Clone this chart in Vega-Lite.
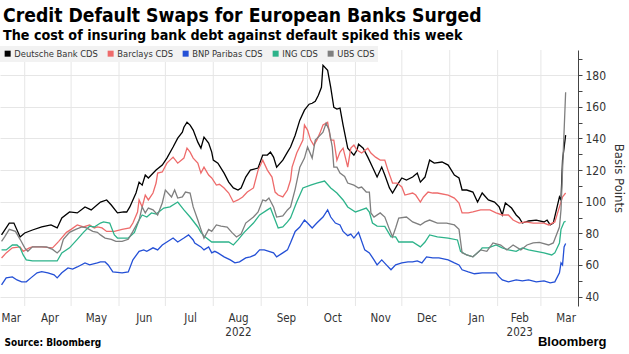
{
"$schema": "https://vega.github.io/schema/vega-lite/v6.json",
"width": 578, "height": 256,
"autosize": "none",
"padding": {"left": 0, "top": 50, "right": 51, "bottom": 48},
"background": "white",
"config": {"view": {"stroke": null}, "font": "DejaVu Sans Condensed, DejaVu Sans, sans-serif"},
"title": {"text": "Credit Default Swaps for European Banks Surged", "subtitle": "The cost of insuring bank debt against default spiked this week", "anchor": "start", "frame": "group", "offset": 3, "dx": 3, "fontSize": 19.2, "fontWeight": "bold", "color": "#000", "subtitleFontSize": 14.2, "subtitleFontWeight": "bold", "subtitleColor": "#000", "subtitlePadding": 3},
"layer": [
{
"data": {"values": [{"m":"2022-04-01"},{"m":"2022-05-01"},{"m":"2022-06-01"},{"m":"2022-07-01"},{"m":"2022-08-01"},{"m":"2022-09-01"},{"m":"2022-10-01"},{"m":"2022-11-01"},{"m":"2022-12-01"},{"m":"2023-01-01"},{"m":"2023-02-01"},{"m":"2023-03-01"}]},
"mark": {"type": "rule", "color": "#e6e6e6", "strokeWidth": 1},
"encoding": {"x": {"field": "m", "type": "temporal",
 "scale": {"type": "utc", "domain": [{"year": 2022, "month": 3, "date": 16, "utc": true}, {"year": 2023, "month": 3, "date": 25, "utc": true}]},
 "axis": {"orient": "bottom", "labels": false, "ticks": false, "domain": false, "grid": false, "title": "Bloomberg", "titleX": 606, "titleY": 35, "titleAlign": "right", "titleBaseline": "middle", "titleFont": "Liberation Sans", "titleFontSize": 13, "titleFontWeight": "bold", "titleColor": "#000"}}}
},
{
"data": {"values": [
{"d":"2022-03-17","s":"Deutsche Bank CDS","v":79},{"d":"2022-03-22","s":"Deutsche Bank CDS","v":86.5},{"d":"2022-03-25","s":"Deutsche Bank CDS","v":86.5},{"d":"2022-03-29","s":"Deutsche Bank CDS","v":77.7},{"d":"2022-04-01","s":"Deutsche Bank CDS","v":80.2},{"d":"2022-04-06","s":"Deutsche Bank CDS","v":82.1},{"d":"2022-04-12","s":"Deutsche Bank CDS","v":84},{"d":"2022-04-18","s":"Deutsche Bank CDS","v":85.3},{"d":"2022-04-22","s":"Deutsche Bank CDS","v":83.4},{"d":"2022-04-25","s":"Deutsche Bank CDS","v":89.7},{"d":"2022-04-30","s":"Deutsche Bank CDS","v":93.5},{"d":"2022-05-05","s":"Deutsche Bank CDS","v":92.9},{"d":"2022-05-10","s":"Deutsche Bank CDS","v":96.7},{"d":"2022-05-14","s":"Deutsche Bank CDS","v":94.8},{"d":"2022-05-20","s":"Deutsche Bank CDS","v":99.8},{"d":"2022-05-24","s":"Deutsche Bank CDS","v":101.1},{"d":"2022-05-27","s":"Deutsche Bank CDS","v":97.9},{"d":"2022-05-31","s":"Deutsche Bank CDS","v":92.9},{"d":"2022-06-04","s":"Deutsche Bank CDS","v":93.5},{"d":"2022-06-06","s":"Deutsche Bank CDS","v":93.5},{"d":"2022-06-08","s":"Deutsche Bank CDS","v":96.7},{"d":"2022-06-12","s":"Deutsche Bank CDS","v":105.5},{"d":"2022-06-14","s":"Deutsche Bank CDS","v":112.4},{"d":"2022-06-16","s":"Deutsche Bank CDS","v":110.5},{"d":"2022-06-18","s":"Deutsche Bank CDS","v":116.9},{"d":"2022-06-20","s":"Deutsche Bank CDS","v":115},{"d":"2022-06-25","s":"Deutsche Bank CDS","v":120},{"d":"2022-06-29","s":"Deutsche Bank CDS","v":123.2},{"d":"2022-07-02","s":"Deutsche Bank CDS","v":127.6},{"d":"2022-07-06","s":"Deutsche Bank CDS","v":134.6},{"d":"2022-07-09","s":"Deutsche Bank CDS","v":140.2},{"d":"2022-07-12","s":"Deutsche Bank CDS","v":144},{"d":"2022-07-13","s":"Deutsche Bank CDS","v":147.1},{"d":"2022-07-15","s":"Deutsche Bank CDS","v":150.3},{"d":"2022-07-17","s":"Deutsche Bank CDS","v":148.5},{"d":"2022-07-19","s":"Deutsche Bank CDS","v":145.3},{"d":"2022-07-22","s":"Deutsche Bank CDS","v":137.7},{"d":"2022-07-24","s":"Deutsche Bank CDS","v":133.9},{"d":"2022-07-26","s":"Deutsche Bank CDS","v":140.9},{"d":"2022-07-29","s":"Deutsche Bank CDS","v":137.1},{"d":"2022-07-31","s":"Deutsche Bank CDS","v":131.4},{"d":"2022-08-01","s":"Deutsche Bank CDS","v":126.3},{"d":"2022-08-04","s":"Deutsche Bank CDS","v":124.4},{"d":"2022-08-08","s":"Deutsche Bank CDS","v":118.1},{"d":"2022-08-11","s":"Deutsche Bank CDS","v":112.4},{"d":"2022-08-14","s":"Deutsche Bank CDS","v":108.7},{"d":"2022-08-17","s":"Deutsche Bank CDS","v":107.4},{"d":"2022-08-19","s":"Deutsche Bank CDS","v":108.7},{"d":"2022-08-22","s":"Deutsche Bank CDS","v":115.6},{"d":"2022-08-25","s":"Deutsche Bank CDS","v":120},{"d":"2022-08-30","s":"Deutsche Bank CDS","v":121.3},{"d":"2022-09-02","s":"Deutsche Bank CDS","v":129.5},{"d":"2022-09-05","s":"Deutsche Bank CDS","v":129.5},{"d":"2022-09-07","s":"Deutsche Bank CDS","v":131.4},{"d":"2022-09-09","s":"Deutsche Bank CDS","v":128.2},{"d":"2022-09-11","s":"Deutsche Bank CDS","v":121.9},{"d":"2022-09-15","s":"Deutsche Bank CDS","v":126.3},{"d":"2022-09-18","s":"Deutsche Bank CDS","v":131.4},{"d":"2022-09-20","s":"Deutsche Bank CDS","v":134.6},{"d":"2022-09-23","s":"Deutsche Bank CDS","v":142.1},{"d":"2022-09-26","s":"Deutsche Bank CDS","v":151.6},{"d":"2022-09-29","s":"Deutsche Bank CDS","v":157.9},{"d":"2022-10-02","s":"Deutsche Bank CDS","v":161.7},{"d":"2022-10-04","s":"Deutsche Bank CDS","v":162.3},{"d":"2022-10-06","s":"Deutsche Bank CDS","v":163.6},{"d":"2022-10-08","s":"Deutsche Bank CDS","v":167.4},{"d":"2022-10-10","s":"Deutsche Bank CDS","v":172.4},{"d":"2022-10-11","s":"Deutsche Bank CDS","v":186.3},{"d":"2022-10-14","s":"Deutsche Bank CDS","v":183.1},{"d":"2022-10-16","s":"Deutsche Bank CDS","v":172.4},{"d":"2022-10-18","s":"Deutsche Bank CDS","v":159.7},{"d":"2022-10-20","s":"Deutsche Bank CDS","v":158.6},{"d":"2022-10-22","s":"Deutsche Bank CDS","v":159.2},{"d":"2022-10-24","s":"Deutsche Bank CDS","v":148.5},{"d":"2022-10-27","s":"Deutsche Bank CDS","v":133.9},{"d":"2022-10-31","s":"Deutsche Bank CDS","v":129.5},{"d":"2022-11-02","s":"Deutsche Bank CDS","v":132.7},{"d":"2022-11-03","s":"Deutsche Bank CDS","v":136.4},{"d":"2022-11-06","s":"Deutsche Bank CDS","v":133.9},{"d":"2022-11-09","s":"Deutsche Bank CDS","v":128.2},{"d":"2022-11-12","s":"Deutsche Bank CDS","v":121.9},{"d":"2022-11-15","s":"Deutsche Bank CDS","v":115.6},{"d":"2022-11-18","s":"Deutsche Bank CDS","v":121.9},{"d":"2022-11-20","s":"Deutsche Bank CDS","v":116.9},{"d":"2022-11-23","s":"Deutsche Bank CDS","v":108.7},{"d":"2022-11-25","s":"Deutsche Bank CDS","v":105.5},{"d":"2022-11-28","s":"Deutsche Bank CDS","v":110.5},{"d":"2022-12-01","s":"Deutsche Bank CDS","v":115},{"d":"2022-12-04","s":"Deutsche Bank CDS","v":113.7},{"d":"2022-12-08","s":"Deutsche Bank CDS","v":115.6},{"d":"2022-12-11","s":"Deutsche Bank CDS","v":118.1},{"d":"2022-12-13","s":"Deutsche Bank CDS","v":112.4},{"d":"2022-12-16","s":"Deutsche Bank CDS","v":115.6},{"d":"2022-12-19","s":"Deutsche Bank CDS","v":126.3},{"d":"2022-12-22","s":"Deutsche Bank CDS","v":124.4},{"d":"2022-12-27","s":"Deutsche Bank CDS","v":125.1},{"d":"2022-12-31","s":"Deutsche Bank CDS","v":123.2},{"d":"2023-01-04","s":"Deutsche Bank CDS","v":116.9},{"d":"2023-01-07","s":"Deutsche Bank CDS","v":115},{"d":"2023-01-09","s":"Deutsche Bank CDS","v":107.4},{"d":"2023-01-12","s":"Deutsche Bank CDS","v":107.4},{"d":"2023-01-16","s":"Deutsche Bank CDS","v":106.1},{"d":"2023-01-19","s":"Deutsche Bank CDS","v":99.8},{"d":"2023-01-22","s":"Deutsche Bank CDS","v":105.5},{"d":"2023-01-26","s":"Deutsche Bank CDS","v":101.1},{"d":"2023-01-30","s":"Deutsche Bank CDS","v":99.8},{"d":"2023-02-02","s":"Deutsche Bank CDS","v":96.7},{"d":"2023-02-04","s":"Deutsche Bank CDS","v":91.6},{"d":"2023-02-06","s":"Deutsche Bank CDS","v":99.2},{"d":"2023-02-10","s":"Deutsche Bank CDS","v":96},{"d":"2023-02-13","s":"Deutsche Bank CDS","v":91.6},{"d":"2023-02-15","s":"Deutsche Bank CDS","v":89.7},{"d":"2023-02-17","s":"Deutsche Bank CDS","v":86.5},{"d":"2023-02-21","s":"Deutsche Bank CDS","v":87.8},{"d":"2023-02-26","s":"Deutsche Bank CDS","v":88.4},{"d":"2023-03-03","s":"Deutsche Bank CDS","v":87.2},{"d":"2023-03-05","s":"Deutsche Bank CDS","v":88.4},{"d":"2023-03-07","s":"Deutsche Bank CDS","v":85.3},{"d":"2023-03-09","s":"Deutsche Bank CDS","v":86.5},{"d":"2023-03-13","s":"Deutsche Bank CDS","v":103},{"d":"2023-03-14","s":"Deutsche Bank CDS","v":101.1},{"d":"2023-03-15","s":"Deutsche Bank CDS","v":126.3},{"d":"2023-03-17","s":"Deutsche Bank CDS","v":142.1},
{"d":"2022-03-17","s":"Barclays CDS","v":64.4},{"d":"2022-03-20","s":"Barclays CDS","v":67.6},{"d":"2022-03-24","s":"Barclays CDS","v":70.8},{"d":"2022-03-29","s":"Barclays CDS","v":71.4},{"d":"2022-03-31","s":"Barclays CDS","v":68.6},{"d":"2022-04-04","s":"Barclays CDS","v":70.8},{"d":"2022-04-06","s":"Barclays CDS","v":71.4},{"d":"2022-04-12","s":"Barclays CDS","v":71.4},{"d":"2022-04-19","s":"Barclays CDS","v":70.8},{"d":"2022-04-23","s":"Barclays CDS","v":74.9},{"d":"2022-04-28","s":"Barclays CDS","v":80.6},{"d":"2022-05-01","s":"Barclays CDS","v":82.5},{"d":"2022-05-05","s":"Barclays CDS","v":85.3},{"d":"2022-05-09","s":"Barclays CDS","v":84},{"d":"2022-05-13","s":"Barclays CDS","v":85.3},{"d":"2022-05-16","s":"Barclays CDS","v":83.4},{"d":"2022-05-18","s":"Barclays CDS","v":84},{"d":"2022-05-21","s":"Barclays CDS","v":83.4},{"d":"2022-05-24","s":"Barclays CDS","v":81.2},{"d":"2022-05-29","s":"Barclays CDS","v":81.2},{"d":"2022-06-03","s":"Barclays CDS","v":82.5},{"d":"2022-06-08","s":"Barclays CDS","v":83.4},{"d":"2022-06-10","s":"Barclays CDS","v":86.5},{"d":"2022-06-13","s":"Barclays CDS","v":93.5},{"d":"2022-06-14","s":"Barclays CDS","v":101.1},{"d":"2022-06-16","s":"Barclays CDS","v":96.7},{"d":"2022-06-18","s":"Barclays CDS","v":104.2},{"d":"2022-06-20","s":"Barclays CDS","v":101.1},{"d":"2022-06-23","s":"Barclays CDS","v":105.5},{"d":"2022-06-25","s":"Barclays CDS","v":111.8},{"d":"2022-06-26","s":"Barclays CDS","v":118.1},{"d":"2022-06-29","s":"Barclays CDS","v":118.8},{"d":"2022-07-02","s":"Barclays CDS","v":124.4},{"d":"2022-07-06","s":"Barclays CDS","v":128.2},{"d":"2022-07-09","s":"Barclays CDS","v":124.4},{"d":"2022-07-13","s":"Barclays CDS","v":127.6},{"d":"2022-07-15","s":"Barclays CDS","v":133.9},{"d":"2022-07-17","s":"Barclays CDS","v":131.4},{"d":"2022-07-19","s":"Barclays CDS","v":127.6},{"d":"2022-07-22","s":"Barclays CDS","v":124.4},{"d":"2022-07-24","s":"Barclays CDS","v":118.1},{"d":"2022-07-26","s":"Barclays CDS","v":121.9},{"d":"2022-07-29","s":"Barclays CDS","v":116.9},{"d":"2022-07-31","s":"Barclays CDS","v":115},{"d":"2022-08-03","s":"Barclays CDS","v":110.5},{"d":"2022-08-05","s":"Barclays CDS","v":111},{"d":"2022-08-08","s":"Barclays CDS","v":108.7},{"d":"2022-08-11","s":"Barclays CDS","v":105.5},{"d":"2022-08-14","s":"Barclays CDS","v":99.8},{"d":"2022-08-17","s":"Barclays CDS","v":101.1},{"d":"2022-08-20","s":"Barclays CDS","v":103},{"d":"2022-08-23","s":"Barclays CDS","v":106.1},{"d":"2022-08-27","s":"Barclays CDS","v":108.7},{"d":"2022-08-30","s":"Barclays CDS","v":120},{"d":"2022-09-02","s":"Barclays CDS","v":126.3},{"d":"2022-09-05","s":"Barclays CDS","v":120},{"d":"2022-09-08","s":"Barclays CDS","v":115.6},{"d":"2022-09-10","s":"Barclays CDS","v":106.1},{"d":"2022-09-12","s":"Barclays CDS","v":104.2},{"d":"2022-09-15","s":"Barclays CDS","v":103},{"d":"2022-09-18","s":"Barclays CDS","v":107.4},{"d":"2022-09-20","s":"Barclays CDS","v":113.7},{"d":"2022-09-21","s":"Barclays CDS","v":121.9},{"d":"2022-09-24","s":"Barclays CDS","v":130.8},{"d":"2022-09-28","s":"Barclays CDS","v":139},{"d":"2022-09-29","s":"Barclays CDS","v":148.5},{"d":"2022-10-01","s":"Barclays CDS","v":145.3},{"d":"2022-10-03","s":"Barclays CDS","v":139},{"d":"2022-10-05","s":"Barclays CDS","v":135.8},{"d":"2022-10-07","s":"Barclays CDS","v":139},{"d":"2022-10-09","s":"Barclays CDS","v":143.4},{"d":"2022-10-11","s":"Barclays CDS","v":148.5},{"d":"2022-10-14","s":"Barclays CDS","v":150.3},{"d":"2022-10-16","s":"Barclays CDS","v":139},{"d":"2022-10-18","s":"Barclays CDS","v":139},{"d":"2022-10-20","s":"Barclays CDS","v":126.3},{"d":"2022-10-22","s":"Barclays CDS","v":131.4},{"d":"2022-10-24","s":"Barclays CDS","v":133.9},{"d":"2022-10-27","s":"Barclays CDS","v":121.9},{"d":"2022-10-29","s":"Barclays CDS","v":133.9},{"d":"2022-10-31","s":"Barclays CDS","v":135.8},{"d":"2022-11-02","s":"Barclays CDS","v":132.7},{"d":"2022-11-05","s":"Barclays CDS","v":130.8},{"d":"2022-11-09","s":"Barclays CDS","v":133.9},{"d":"2022-11-11","s":"Barclays CDS","v":130.8},{"d":"2022-11-14","s":"Barclays CDS","v":128.2},{"d":"2022-11-17","s":"Barclays CDS","v":126.3},{"d":"2022-11-20","s":"Barclays CDS","v":126.3},{"d":"2022-11-22","s":"Barclays CDS","v":120},{"d":"2022-11-25","s":"Barclays CDS","v":111.8},{"d":"2022-11-28","s":"Barclays CDS","v":111.8},{"d":"2022-12-01","s":"Barclays CDS","v":109.3},{"d":"2022-12-03","s":"Barclays CDS","v":104.2},{"d":"2022-12-08","s":"Barclays CDS","v":105.5},{"d":"2022-12-10","s":"Barclays CDS","v":104.2},{"d":"2022-12-13","s":"Barclays CDS","v":99.8},{"d":"2022-12-15","s":"Barclays CDS","v":103},{"d":"2022-12-18","s":"Barclays CDS","v":106.1},{"d":"2022-12-21","s":"Barclays CDS","v":105.5},{"d":"2022-12-24","s":"Barclays CDS","v":105.5},{"d":"2022-12-31","s":"Barclays CDS","v":104.2},{"d":"2023-01-04","s":"Barclays CDS","v":102.3},{"d":"2023-01-07","s":"Barclays CDS","v":99.2},{"d":"2023-01-09","s":"Barclays CDS","v":92.9},{"d":"2023-01-13","s":"Barclays CDS","v":92.9},{"d":"2023-01-16","s":"Barclays CDS","v":93.5},{"d":"2023-01-21","s":"Barclays CDS","v":94.8},{"d":"2023-01-27","s":"Barclays CDS","v":94.8},{"d":"2023-01-31","s":"Barclays CDS","v":92.9},{"d":"2023-02-04","s":"Barclays CDS","v":91.6},{"d":"2023-02-08","s":"Barclays CDS","v":91.6},{"d":"2023-02-11","s":"Barclays CDS","v":88.4},{"d":"2023-02-15","s":"Barclays CDS","v":86.5},{"d":"2023-02-19","s":"Barclays CDS","v":87.2},{"d":"2023-02-24","s":"Barclays CDS","v":86.5},{"d":"2023-03-03","s":"Barclays CDS","v":86.5},{"d":"2023-03-06","s":"Barclays CDS","v":85.3},{"d":"2023-03-10","s":"Barclays CDS","v":87.2},{"d":"2023-03-13","s":"Barclays CDS","v":96.7},{"d":"2023-03-15","s":"Barclays CDS","v":103},{"d":"2023-03-17","s":"Barclays CDS","v":105.5},
{"d":"2022-03-17","s":"BNP Paribas CDS","v":47.4},{"d":"2022-03-20","s":"BNP Paribas CDS","v":51.8},{"d":"2022-03-24","s":"BNP Paribas CDS","v":52.4},{"d":"2022-03-27","s":"BNP Paribas CDS","v":50.5},{"d":"2022-03-30","s":"BNP Paribas CDS","v":49.3},{"d":"2022-04-02","s":"BNP Paribas CDS","v":49.3},{"d":"2022-04-05","s":"BNP Paribas CDS","v":51.8},{"d":"2022-04-09","s":"BNP Paribas CDS","v":55},{"d":"2022-04-12","s":"BNP Paribas CDS","v":55.8},{"d":"2022-04-16","s":"BNP Paribas CDS","v":55},{"d":"2022-04-20","s":"BNP Paribas CDS","v":53.7},{"d":"2022-04-22","s":"BNP Paribas CDS","v":51.8},{"d":"2022-04-25","s":"BNP Paribas CDS","v":55},{"d":"2022-04-29","s":"BNP Paribas CDS","v":58.1},{"d":"2022-05-02","s":"BNP Paribas CDS","v":57.4},{"d":"2022-05-05","s":"BNP Paribas CDS","v":58.7},{"d":"2022-05-10","s":"BNP Paribas CDS","v":61.3},{"d":"2022-05-13","s":"BNP Paribas CDS","v":60},{"d":"2022-05-18","s":"BNP Paribas CDS","v":61.3},{"d":"2022-05-20","s":"BNP Paribas CDS","v":61.9},{"d":"2022-05-23","s":"BNP Paribas CDS","v":61.9},{"d":"2022-05-25","s":"BNP Paribas CDS","v":60},{"d":"2022-05-28","s":"BNP Paribas CDS","v":55.6},{"d":"2022-06-03","s":"BNP Paribas CDS","v":55},{"d":"2022-06-07","s":"BNP Paribas CDS","v":55.6},{"d":"2022-06-10","s":"BNP Paribas CDS","v":63.2},{"d":"2022-06-14","s":"BNP Paribas CDS","v":68.6},{"d":"2022-06-17","s":"BNP Paribas CDS","v":69.5},{"d":"2022-06-19","s":"BNP Paribas CDS","v":68.6},{"d":"2022-06-23","s":"BNP Paribas CDS","v":70.8},{"d":"2022-06-26","s":"BNP Paribas CDS","v":69.5},{"d":"2022-06-29","s":"BNP Paribas CDS","v":72.6},{"d":"2022-07-02","s":"BNP Paribas CDS","v":74.5},{"d":"2022-07-06","s":"BNP Paribas CDS","v":77},{"d":"2022-07-09","s":"BNP Paribas CDS","v":74.5},{"d":"2022-07-13","s":"BNP Paribas CDS","v":77},{"d":"2022-07-16","s":"BNP Paribas CDS","v":79},{"d":"2022-07-19","s":"BNP Paribas CDS","v":75.8},{"d":"2022-07-20","s":"BNP Paribas CDS","v":73.9},{"d":"2022-07-24","s":"BNP Paribas CDS","v":71.4},{"d":"2022-07-26","s":"BNP Paribas CDS","v":69.5},{"d":"2022-07-29","s":"BNP Paribas CDS","v":71.4},{"d":"2022-07-31","s":"BNP Paribas CDS","v":67.6},{"d":"2022-08-02","s":"BNP Paribas CDS","v":68.6},{"d":"2022-08-04","s":"BNP Paribas CDS","v":67.6},{"d":"2022-08-08","s":"BNP Paribas CDS","v":65.1},{"d":"2022-08-12","s":"BNP Paribas CDS","v":63.2},{"d":"2022-08-15","s":"BNP Paribas CDS","v":61.3},{"d":"2022-08-18","s":"BNP Paribas CDS","v":61.9},{"d":"2022-08-22","s":"BNP Paribas CDS","v":64.4},{"d":"2022-08-25","s":"BNP Paribas CDS","v":65.1},{"d":"2022-08-28","s":"BNP Paribas CDS","v":66.3},{"d":"2022-08-31","s":"BNP Paribas CDS","v":69.5},{"d":"2022-09-03","s":"BNP Paribas CDS","v":69.5},{"d":"2022-09-06","s":"BNP Paribas CDS","v":68.6},{"d":"2022-09-09","s":"BNP Paribas CDS","v":67.6},{"d":"2022-09-11","s":"BNP Paribas CDS","v":65.1},{"d":"2022-09-15","s":"BNP Paribas CDS","v":67.6},{"d":"2022-09-18","s":"BNP Paribas CDS","v":69.5},{"d":"2022-09-20","s":"BNP Paribas CDS","v":74},{"d":"2022-09-23","s":"BNP Paribas CDS","v":81.2},{"d":"2022-09-26","s":"BNP Paribas CDS","v":84},{"d":"2022-09-29","s":"BNP Paribas CDS","v":88.4},{"d":"2022-10-01","s":"BNP Paribas CDS","v":86.5},{"d":"2022-10-04","s":"BNP Paribas CDS","v":83.4},{"d":"2022-10-07","s":"BNP Paribas CDS","v":86.5},{"d":"2022-10-11","s":"BNP Paribas CDS","v":90.3},{"d":"2022-10-14","s":"BNP Paribas CDS","v":94.8},{"d":"2022-10-16","s":"BNP Paribas CDS","v":90.3},{"d":"2022-10-19","s":"BNP Paribas CDS","v":86.5},{"d":"2022-10-22","s":"BNP Paribas CDS","v":85.3},{"d":"2022-10-24","s":"BNP Paribas CDS","v":81.2},{"d":"2022-10-27","s":"BNP Paribas CDS","v":78.5},{"d":"2022-10-29","s":"BNP Paribas CDS","v":79.5},{"d":"2022-10-31","s":"BNP Paribas CDS","v":77},{"d":"2022-11-02","s":"BNP Paribas CDS","v":79.5},{"d":"2022-11-03","s":"BNP Paribas CDS","v":80.6},{"d":"2022-11-07","s":"BNP Paribas CDS","v":69.5},{"d":"2022-11-10","s":"BNP Paribas CDS","v":67.6},{"d":"2022-11-13","s":"BNP Paribas CDS","v":63.2},{"d":"2022-11-15","s":"BNP Paribas CDS","v":60},{"d":"2022-11-18","s":"BNP Paribas CDS","v":63.2},{"d":"2022-11-21","s":"BNP Paribas CDS","v":60},{"d":"2022-11-24","s":"BNP Paribas CDS","v":56.9},{"d":"2022-11-27","s":"BNP Paribas CDS","v":60},{"d":"2022-12-01","s":"BNP Paribas CDS","v":61.3},{"d":"2022-12-05","s":"BNP Paribas CDS","v":61.9},{"d":"2022-12-08","s":"BNP Paribas CDS","v":61.9},{"d":"2022-12-11","s":"BNP Paribas CDS","v":62.5},{"d":"2022-12-14","s":"BNP Paribas CDS","v":61.3},{"d":"2022-12-17","s":"BNP Paribas CDS","v":65.1},{"d":"2022-12-21","s":"BNP Paribas CDS","v":64.4},{"d":"2022-12-25","s":"BNP Paribas CDS","v":64.4},{"d":"2022-12-31","s":"BNP Paribas CDS","v":63.2},{"d":"2023-01-04","s":"BNP Paribas CDS","v":61.3},{"d":"2023-01-07","s":"BNP Paribas CDS","v":60},{"d":"2023-01-09","s":"BNP Paribas CDS","v":56.9},{"d":"2023-01-13","s":"BNP Paribas CDS","v":55.6},{"d":"2023-01-17","s":"BNP Paribas CDS","v":54.4},{"d":"2023-01-22","s":"BNP Paribas CDS","v":55},{"d":"2023-01-26","s":"BNP Paribas CDS","v":55},{"d":"2023-01-31","s":"BNP Paribas CDS","v":55},{"d":"2023-02-02","s":"BNP Paribas CDS","v":52.4},{"d":"2023-02-04","s":"BNP Paribas CDS","v":50.5},{"d":"2023-02-08","s":"BNP Paribas CDS","v":49.3},{"d":"2023-02-13","s":"BNP Paribas CDS","v":50.5},{"d":"2023-02-17","s":"BNP Paribas CDS","v":49.9},{"d":"2023-02-21","s":"BNP Paribas CDS","v":50.5},{"d":"2023-02-26","s":"BNP Paribas CDS","v":49.3},{"d":"2023-03-03","s":"BNP Paribas CDS","v":49.9},{"d":"2023-03-07","s":"BNP Paribas CDS","v":48.6},{"d":"2023-03-10","s":"BNP Paribas CDS","v":49.3},{"d":"2023-03-13","s":"BNP Paribas CDS","v":55},{"d":"2023-03-14","s":"BNP Paribas CDS","v":61.3},{"d":"2023-03-15","s":"BNP Paribas CDS","v":60},{"d":"2023-03-16","s":"BNP Paribas CDS","v":71.4},{"d":"2023-03-17","s":"BNP Paribas CDS","v":73.5},
{"d":"2022-03-17","s":"ING CDS","v":69.5},{"d":"2022-03-20","s":"ING CDS","v":69.5},{"d":"2022-03-24","s":"ING CDS","v":72.6},{"d":"2022-03-27","s":"ING CDS","v":72.6},{"d":"2022-03-29","s":"ING CDS","v":70.8},{"d":"2022-03-31","s":"ING CDS","v":66.3},{"d":"2022-04-02","s":"ING CDS","v":63.2},{"d":"2022-04-06","s":"ING CDS","v":62.5},{"d":"2022-04-11","s":"ING CDS","v":62.5},{"d":"2022-04-15","s":"ING CDS","v":62.5},{"d":"2022-04-22","s":"ING CDS","v":62.5},{"d":"2022-04-25","s":"ING CDS","v":67.6},{"d":"2022-04-30","s":"ING CDS","v":70.8},{"d":"2022-05-05","s":"ING CDS","v":76.2},{"d":"2022-05-09","s":"ING CDS","v":80.6},{"d":"2022-05-13","s":"ING CDS","v":84.5},{"d":"2022-05-16","s":"ING CDS","v":84},{"d":"2022-05-20","s":"ING CDS","v":86.5},{"d":"2022-05-22","s":"ING CDS","v":87.2},{"d":"2022-05-26","s":"ING CDS","v":86.5},{"d":"2022-05-29","s":"ING CDS","v":79},{"d":"2022-05-31","s":"ING CDS","v":77},{"d":"2022-06-07","s":"ING CDS","v":77},{"d":"2022-06-11","s":"ING CDS","v":80.6},{"d":"2022-06-14","s":"ING CDS","v":88.4},{"d":"2022-06-16","s":"ING CDS","v":91.6},{"d":"2022-06-19","s":"ING CDS","v":90.3},{"d":"2022-06-22","s":"ING CDS","v":92.9},{"d":"2022-06-25","s":"ING CDS","v":92.2},{"d":"2022-06-30","s":"ING CDS","v":96},{"d":"2022-07-04","s":"ING CDS","v":96.7},{"d":"2022-07-09","s":"ING CDS","v":99.8},{"d":"2022-07-13","s":"ING CDS","v":94.8},{"d":"2022-07-17","s":"ING CDS","v":90.3},{"d":"2022-07-22","s":"ING CDS","v":84},{"d":"2022-07-24","s":"ING CDS","v":80.6},{"d":"2022-07-26","s":"ING CDS","v":78.3},{"d":"2022-07-31","s":"ING CDS","v":74.5},{"d":"2022-08-04","s":"ING CDS","v":74.5},{"d":"2022-08-08","s":"ING CDS","v":74.5},{"d":"2022-08-11","s":"ING CDS","v":74.5},{"d":"2022-08-14","s":"ING CDS","v":72.6},{"d":"2022-08-17","s":"ING CDS","v":75.8},{"d":"2022-08-21","s":"ING CDS","v":80.6},{"d":"2022-08-27","s":"ING CDS","v":86.5},{"d":"2022-08-31","s":"ING CDS","v":91.6},{"d":"2022-09-05","s":"ING CDS","v":94.8},{"d":"2022-09-07","s":"ING CDS","v":96},{"d":"2022-09-10","s":"ING CDS","v":88.4},{"d":"2022-09-12","s":"ING CDS","v":83.4},{"d":"2022-09-15","s":"ING CDS","v":84},{"d":"2022-09-18","s":"ING CDS","v":87.2},{"d":"2022-09-20","s":"ING CDS","v":89.7},{"d":"2022-09-24","s":"ING CDS","v":99.8},{"d":"2022-09-28","s":"ING CDS","v":108.7},{"d":"2022-10-03","s":"ING CDS","v":110.5},{"d":"2022-10-07","s":"ING CDS","v":111.8},{"d":"2022-10-12","s":"ING CDS","v":113.1},{"d":"2022-10-16","s":"ING CDS","v":108.7},{"d":"2022-10-20","s":"ING CDS","v":105.5},{"d":"2022-10-24","s":"ING CDS","v":101.1},{"d":"2022-10-27","s":"ING CDS","v":96.7},{"d":"2022-11-01","s":"ING CDS","v":93.5},{"d":"2022-11-03","s":"ING CDS","v":94.2},{"d":"2022-11-08","s":"ING CDS","v":96},{"d":"2022-11-10","s":"ING CDS","v":93.5},{"d":"2022-11-12","s":"ING CDS","v":86.5},{"d":"2022-11-15","s":"ING CDS","v":84.6},{"d":"2022-11-20","s":"ING CDS","v":84.4},{"d":"2022-11-24","s":"ING CDS","v":77.7},{"d":"2022-11-27","s":"ING CDS","v":77.7},{"d":"2022-11-29","s":"ING CDS","v":74.5},{"d":"2022-12-08","s":"ING CDS","v":74.5},{"d":"2022-12-13","s":"ING CDS","v":71.4},{"d":"2022-12-16","s":"ING CDS","v":74.5},{"d":"2022-12-19","s":"ING CDS","v":79},{"d":"2022-12-24","s":"ING CDS","v":77.7},{"d":"2022-12-31","s":"ING CDS","v":77},{"d":"2023-01-06","s":"ING CDS","v":75.8},{"d":"2023-01-08","s":"ING CDS","v":68.6},{"d":"2023-01-12","s":"ING CDS","v":66.3},{"d":"2023-01-16","s":"ING CDS","v":65.1},{"d":"2023-01-21","s":"ING CDS","v":69.5},{"d":"2023-01-22","s":"ING CDS","v":70.8},{"d":"2023-01-26","s":"ING CDS","v":70.8},{"d":"2023-01-31","s":"ING CDS","v":72.6},{"d":"2023-02-04","s":"ING CDS","v":70.8},{"d":"2023-02-08","s":"ING CDS","v":69.5},{"d":"2023-02-13","s":"ING CDS","v":68.6},{"d":"2023-02-17","s":"ING CDS","v":70.8},{"d":"2023-02-21","s":"ING CDS","v":69.5},{"d":"2023-02-26","s":"ING CDS","v":68.6},{"d":"2023-03-03","s":"ING CDS","v":67.6},{"d":"2023-03-08","s":"ING CDS","v":66.3},{"d":"2023-03-10","s":"ING CDS","v":67.6},{"d":"2023-03-13","s":"ING CDS","v":73.9},{"d":"2023-03-14","s":"ING CDS","v":82.5},{"d":"2023-03-16","s":"ING CDS","v":87.2},{"d":"2023-03-17","s":"ING CDS","v":87.5},
{"d":"2022-03-17","s":"UBS CDS","v":74.9},{"d":"2022-03-19","s":"UBS CDS","v":77.7},{"d":"2022-03-22","s":"UBS CDS","v":82.5},{"d":"2022-03-26","s":"UBS CDS","v":81.2},{"d":"2022-03-29","s":"UBS CDS","v":76.2},{"d":"2022-04-01","s":"UBS CDS","v":70.8},{"d":"2022-04-03","s":"UBS CDS","v":68.6},{"d":"2022-04-06","s":"UBS CDS","v":71.4},{"d":"2022-04-11","s":"UBS CDS","v":71.4},{"d":"2022-04-15","s":"UBS CDS","v":71.4},{"d":"2022-04-19","s":"UBS CDS","v":69.8},{"d":"2022-04-22","s":"UBS CDS","v":67.6},{"d":"2022-04-24","s":"UBS CDS","v":69.5},{"d":"2022-04-26","s":"UBS CDS","v":76.2},{"d":"2022-04-30","s":"UBS CDS","v":80.6},{"d":"2022-05-04","s":"UBS CDS","v":82.5},{"d":"2022-05-08","s":"UBS CDS","v":84},{"d":"2022-05-11","s":"UBS CDS","v":83.4},{"d":"2022-05-15","s":"UBS CDS","v":81.2},{"d":"2022-05-18","s":"UBS CDS","v":80.6},{"d":"2022-05-20","s":"UBS CDS","v":79},{"d":"2022-05-23","s":"UBS CDS","v":77},{"d":"2022-05-27","s":"UBS CDS","v":76.2},{"d":"2022-05-30","s":"UBS CDS","v":74.9},{"d":"2022-06-03","s":"UBS CDS","v":74.9},{"d":"2022-06-07","s":"UBS CDS","v":76.2},{"d":"2022-06-10","s":"UBS CDS","v":81.2},{"d":"2022-06-14","s":"UBS CDS","v":88.4},{"d":"2022-06-16","s":"UBS CDS","v":96.7},{"d":"2022-06-18","s":"UBS CDS","v":92.9},{"d":"2022-06-20","s":"UBS CDS","v":96},{"d":"2022-06-23","s":"UBS CDS","v":94.8},{"d":"2022-06-26","s":"UBS CDS","v":91.6},{"d":"2022-06-29","s":"UBS CDS","v":99.2},{"d":"2022-07-01","s":"UBS CDS","v":107.4},{"d":"2022-07-05","s":"UBS CDS","v":103},{"d":"2022-07-07","s":"UBS CDS","v":107.4},{"d":"2022-07-09","s":"UBS CDS","v":102.3},{"d":"2022-07-12","s":"UBS CDS","v":103},{"d":"2022-07-14","s":"UBS CDS","v":106.1},{"d":"2022-07-17","s":"UBS CDS","v":105.5},{"d":"2022-07-19","s":"UBS CDS","v":96.7},{"d":"2022-07-22","s":"UBS CDS","v":88.4},{"d":"2022-07-24","s":"UBS CDS","v":82.5},{"d":"2022-07-26","s":"UBS CDS","v":77},{"d":"2022-07-29","s":"UBS CDS","v":82.5},{"d":"2022-07-31","s":"UBS CDS","v":81.2},{"d":"2022-08-03","s":"UBS CDS","v":85.3},{"d":"2022-08-06","s":"UBS CDS","v":84.6},{"d":"2022-08-10","s":"UBS CDS","v":84},{"d":"2022-08-13","s":"UBS CDS","v":80.6},{"d":"2022-08-16","s":"UBS CDS","v":77.7},{"d":"2022-08-19","s":"UBS CDS","v":79.5},{"d":"2022-08-22","s":"UBS CDS","v":86.5},{"d":"2022-08-27","s":"UBS CDS","v":90.3},{"d":"2022-08-30","s":"UBS CDS","v":93.5},{"d":"2022-09-02","s":"UBS CDS","v":101.1},{"d":"2022-09-04","s":"UBS CDS","v":100.5},{"d":"2022-09-06","s":"UBS CDS","v":102.3},{"d":"2022-09-09","s":"UBS CDS","v":96.7},{"d":"2022-09-11","s":"UBS CDS","v":90.3},{"d":"2022-09-15","s":"UBS CDS","v":91},{"d":"2022-09-18","s":"UBS CDS","v":94.8},{"d":"2022-09-20","s":"UBS CDS","v":96.7},{"d":"2022-09-23","s":"UBS CDS","v":108},{"d":"2022-09-26","s":"UBS CDS","v":121.9},{"d":"2022-09-29","s":"UBS CDS","v":127.6},{"d":"2022-10-01","s":"UBS CDS","v":134.6},{"d":"2022-10-04","s":"UBS CDS","v":127.6},{"d":"2022-10-06","s":"UBS CDS","v":139},{"d":"2022-10-08","s":"UBS CDS","v":140.9},{"d":"2022-10-11","s":"UBS CDS","v":144},{"d":"2022-10-13","s":"UBS CDS","v":149.7},{"d":"2022-10-15","s":"UBS CDS","v":145.3},{"d":"2022-10-17","s":"UBS CDS","v":134.6},{"d":"2022-10-18","s":"UBS CDS","v":121.9},{"d":"2022-10-20","s":"UBS CDS","v":121.9},{"d":"2022-10-22","s":"UBS CDS","v":118.1},{"d":"2022-10-25","s":"UBS CDS","v":116},{"d":"2022-10-27","s":"UBS CDS","v":111.8},{"d":"2022-10-31","s":"UBS CDS","v":110.5},{"d":"2022-11-03","s":"UBS CDS","v":108.7},{"d":"2022-11-05","s":"UBS CDS","v":109.3},{"d":"2022-11-08","s":"UBS CDS","v":106.1},{"d":"2022-11-10","s":"UBS CDS","v":106.1},{"d":"2022-11-11","s":"UBS CDS","v":92.9},{"d":"2022-11-13","s":"UBS CDS","v":90.3},{"d":"2022-11-17","s":"UBS CDS","v":92.9},{"d":"2022-11-20","s":"UBS CDS","v":90.3},{"d":"2022-11-23","s":"UBS CDS","v":82.5},{"d":"2022-11-25","s":"UBS CDS","v":77.7},{"d":"2022-11-27","s":"UBS CDS","v":83.4},{"d":"2022-11-29","s":"UBS CDS","v":89.7},{"d":"2022-12-04","s":"UBS CDS","v":90.3},{"d":"2022-12-08","s":"UBS CDS","v":87.2},{"d":"2022-12-13","s":"UBS CDS","v":85.3},{"d":"2022-12-16","s":"UBS CDS","v":87.2},{"d":"2022-12-19","s":"UBS CDS","v":88.4},{"d":"2022-12-24","s":"UBS CDS","v":86.5},{"d":"2022-12-30","s":"UBS CDS","v":86.5},{"d":"2023-01-04","s":"UBS CDS","v":85.3},{"d":"2023-01-07","s":"UBS CDS","v":82.5},{"d":"2023-01-09","s":"UBS CDS","v":67.6},{"d":"2023-01-12","s":"UBS CDS","v":66.3},{"d":"2023-01-16","s":"UBS CDS","v":65.1},{"d":"2023-01-21","s":"UBS CDS","v":69.5},{"d":"2023-01-25","s":"UBS CDS","v":68.6},{"d":"2023-01-29","s":"UBS CDS","v":73.9},{"d":"2023-02-03","s":"UBS CDS","v":72.6},{"d":"2023-02-07","s":"UBS CDS","v":69.5},{"d":"2023-02-11","s":"UBS CDS","v":72.6},{"d":"2023-02-16","s":"UBS CDS","v":69.5},{"d":"2023-02-20","s":"UBS CDS","v":72.6},{"d":"2023-02-24","s":"UBS CDS","v":73.9},{"d":"2023-02-28","s":"UBS CDS","v":74.2},{"d":"2023-03-06","s":"UBS CDS","v":72.6},{"d":"2023-03-09","s":"UBS CDS","v":73.9},{"d":"2023-03-13","s":"UBS CDS","v":84},{"d":"2023-03-14","s":"UBS CDS","v":95},{"d":"2023-03-15","s":"UBS CDS","v":120},{"d":"2023-03-17","s":"UBS CDS","v":169.3}
]},
"mark": {"type": "line", "strokeWidth": 1.3},
"encoding": {
 "x": {"field": "d", "type": "temporal",
  "scale": {"type": "utc", "domain": [{"year": 2022, "month": 3, "date": 16, "utc": true}, {"year": 2023, "month": 3, "date": 25, "utc": true}]},
  "axis": {"orient": "bottom", "grid": false, "ticks": false, "domain": false,
   "values": [{"year":2022,"month":3,"date":23,"utc":true},{"year":2022,"month":4,"date":17,"utc":true},{"year":2022,"month":5,"date":17,"utc":true},{"year":2022,"month":6,"date":17,"utc":true},{"year":2022,"month":7,"date":17,"utc":true},{"year":2022,"month":8,"date":17,"utc":true},{"year":2022,"month":9,"date":17,"utc":true},{"year":2022,"month":10,"date":17,"utc":true},{"year":2022,"month":11,"date":17,"utc":true},{"year":2022,"month":12,"date":17,"utc":true},{"year":2023,"month":1,"date":18,"utc":true},{"year":2023,"month":2,"date":15,"utc":true},{"year":2023,"month":3,"date":17,"utc":true}],
   "labelExpr": "[utcFormat(datum.value, '%b'), (utcFormat(datum.value, '%b') == 'Aug' || utcFormat(datum.value, '%b') == 'Feb') ? utcFormat(datum.value, '%Y') : '']",
   "labelFontSize": 11.5, "labelColor": "#333", "labelPadding": 6, "labelLineHeight": 14, "labelAlign": "center", "labelOverlap": false, "labelFlush": false,
   "title": "Source: Bloomberg", "titleX": 4, "titleY": 36, "titleAlign": "left", "titleBaseline": "middle", "titleFontSize": 10, "titleFontWeight": "bold", "titleColor": "#000"}},
 "y": {"field": "v", "type": "quantitative",
  "scale": {"domain": [34, 196], "nice": false, "zero": false},
  "axis": {"orient": "right", "values": [40,50,60,70,80,90,100,110,120,130,140,150,160,170,180,190],
   "labelExpr": "datum.value % 20 === 0 ? datum.label : ''",
   "grid": true, "gridColor": "#e6e6e6", "gridOpacity": {"condition": {"test": "datum.value % 20 === 0", "value": 1}, "value": 0},
   "domain": true, "domainColor": "#444", "ticks": true, "tickColor": "#444", "tickSize": 4,
   "labelFontSize": 12, "labelColor": "#333", "labelPadding": 3,
   "title": "Basis Points", "titleAngle": 90, "titleFontSize": 13, "titleFontWeight": "normal", "titleColor": "#333", "titlePadding": 6}},
 "color": {"field": "s", "type": "nominal",
  "scale": {"domain": ["Deutsche Bank CDS", "Barclays CDS", "BNP Paribas CDS", "ING CDS", "UBS CDS"], "range": ["#000000", "#ee6b6b", "#2450d6", "#2db38a", "#7f7f7f"]},
  "legend": {"orient": "none", "legendX": 0, "legendY": -4, "direction": "horizontal", "columns": 5, "title": null, "fillColor": "#f2f2f2", "padding": 3,
   "symbolType": "square", "symbolSize": 36, "symbolStrokeWidth": 0, "labelFontSize": 9.3, "labelColor": "#333", "labelOffset": 2, "columnPadding": 8,
   "encode": {"symbols": {"update": {"fill": {"scale": "color", "field": "value"}, "strokeWidth": {"value": 0}}}}}}
}
}
],
"resolve": {"axis": {"x": "independent"}}
}
